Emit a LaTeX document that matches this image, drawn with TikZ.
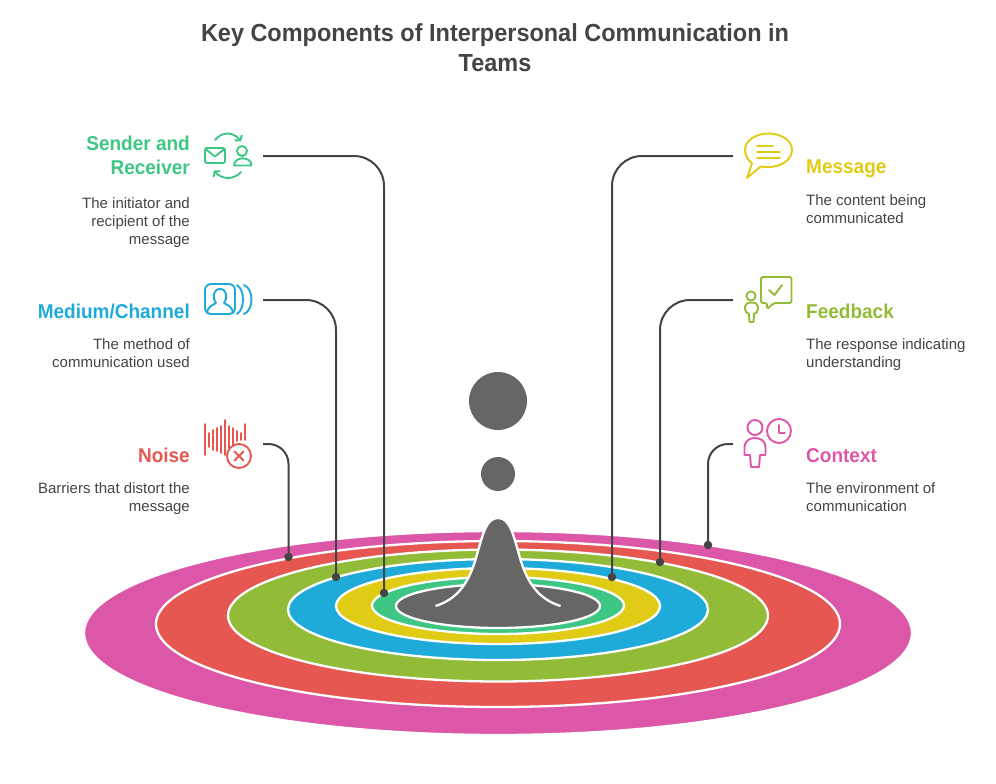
\documentclass[tikz,border=0pt]{standalone}
\usepackage{fontspec}
\setmainfont{Liberation Sans}
\newfontfamily\headfont[FakeStretch=0.95]{Liberation Sans}
\usetikzlibrary{arrows.meta}
\definecolor{contextpink}{HTML}{DD57A9}
\definecolor{noisered}{HTML}{E55750}
\definecolor{feedbackolive}{HTML}{92BC37}
\definecolor{mediumblue}{HTML}{1EABDA}
\definecolor{messageyellow}{HTML}{E0CB15}
\definecolor{sendergreen}{HTML}{3EC784}
\definecolor{coregray}{HTML}{666666}
\definecolor{leadergray}{HTML}{444444}
\tikzset{
  ring/.style={draw=white,line width=2.3pt},
  leader/.style={draw=leadergray,line width=2pt},
  dot/.style={circle,fill=leadergray,inner sep=0pt,minimum size=8.5pt},
  titletext/.style={font=\fontsize{24.7}{30}\selectfont\headfont\bfseries,text=leadergray,align=center,inner sep=0pt},
  headleft/.style={font=\fontsize{20}{24}\selectfont\headfont\bfseries,align=right,anchor=north east,inner sep=0pt},
  headright/.style={font=\fontsize{20}{24}\selectfont\headfont\bfseries,align=left,anchor=north west,inner sep=0pt},
  bodyleft/.style={font=\fontsize{15}{18}\selectfont,text=leadergray,align=right,anchor=north east,inner sep=0pt},
  bodyright/.style={font=\fontsize{15}{18}\selectfont,text=leadergray,align=left,anchor=north west,inner sep=0pt},
  icon/.style={line width=1.9pt,line join=round,line cap=round}
}
\begin{document}
\begin{tikzpicture}[x=1pt,y=-1pt]
  \useasboundingbox (0,0) rectangle (996,784);
  \node[titletext] (title) at (495,48) {Key Components of Interpersonal Communication in\\Teams};

  \filldraw[ring,fill=contextpink] (498,633) ellipse (414 and 102);
  \filldraw[ring,fill=noisered] (498,624) ellipse (342 and 83);
  \filldraw[ring,fill=feedbackolive] (498,615.5) ellipse (270 and 66);
  \filldraw[ring,fill=mediumblue] (498,609.5) ellipse (210 and 50.5);
  \filldraw[ring,fill=messageyellow] (498,606) ellipse (162 and 38);
  \filldraw[ring,fill=sendergreen] (498,605.5) ellipse (126 and 28.5);
  \filldraw[ring,fill=coregray] (498,606) ellipse (102 and 22);
  \filldraw[ring,fill=coregray] (435.5,606) .. controls (458,599) and (469,582) .. (476,558) .. controls (483,534) and (486,518) .. (498,518) .. controls (510,518) and (513,534) .. (520,558) .. controls (527,582) and (538,599) .. (560.5,606);
  \fill[coregray] (498,401) circle (29);
  \fill[coregray] (498,474) circle (17);

  \node[dot] (senderdot) at (384,593) {};
  \node[dot] (mediumdot) at (336,577) {};
  \node[dot] (noisedot) at (288.5,557) {};
  \node[dot] (messagedot) at (612,577) {};
  \node[dot] (feedbackdot) at (660,562) {};
  \node[dot] (contextdot) at (708,545) {};
  \coordinate (senderstart) at (263,156);
  \coordinate (mediumstart) at (263,300);
  \coordinate (noisestart) at (263,444);
  \coordinate (messagestart) at (733,156);
  \coordinate (feedbackstart) at (733,300);
  \coordinate (contextstart) at (733,444);
  \draw[leader,rounded corners=30pt] (senderstart) -| (senderdot.center);
  \draw[leader,rounded corners=30pt] (mediumstart) -| (mediumdot.center);
  \draw[leader,rounded corners=20pt] (noisestart) -| (noisedot.center);
  \draw[leader,rounded corners=30pt] (messagestart) -| (messagedot.center);
  \draw[leader,rounded corners=30pt] (feedbackstart) -| (feedbackdot.center);
  \draw[leader,rounded corners=20pt] (contextstart) -| (contextdot.center);

  \node[headleft,text=sendergreen] (senderhead) at (190,136) {Sender and\\Receiver};
  \node[bodyleft] (senderbody) at (190,197) {The initiator and\\recipient of the\\message};
  \node[headleft,text=mediumblue] (mediumhead) at (190,304) {Medium/Channel};
  \node[bodyleft] (mediumbody) at (190,338.5) {The method of\\communication used};
  \node[headleft,text=noisered] (noisehead) at (190,448) {Noise};
  \node[bodyleft] (noisebody) at (190,482.5) {Barriers that distort the\\message};
  \node[headright,text=messageyellow] (messagehead) at (806,160) {Message};
  \node[bodyright] (messagebody) at (806,194.5) {The content being\\communicated};
  \node[headright,text=feedbackolive] (feedbackhead) at (806,304) {Feedback};
  \node[bodyright] (feedbackbody) at (806,338.5) {The response indicating\\understanding};
  \node[headright,text=contextpink] (contexthead) at (806,448) {Context};
  \node[bodyright] (contextbody) at (806,482.5) {The environment of\\communication};

  \begin{scope}[icon,draw=sendergreen]
    \draw[rounded corners=2pt] (205,148) rectangle (225,163);
    \draw (205.5,149) -- (215,156.5) -- (224.5,149);
    \draw (242,151) circle (5);
    \draw (234,165.5) .. controls (234,156) and (251.5,156) .. (251.5,165.5) -- cycle;
    \draw[-{Straight Barb[length=3.5pt,width=9pt]}] (215,140) .. controls (222,131) and (234,132) .. (241,141.5);
    \draw[-{Straight Barb[length=3.5pt,width=9pt]}] (241,172) .. controls (234,180) and (222,180) .. (214,170.5);
  \end{scope}
  \begin{scope}[icon,draw=mediumblue]
    \draw[rounded corners=6pt] (205,284) rectangle (235,314);
    \draw (207,313) .. controls (208,306) and (213,305) .. (216,303) .. controls (212,298) and (213,289) .. (220,289) .. controls (227,289) and (228,298) .. (224,303) .. controls (227,305) and (232,306) .. (233,313);
    \draw (237,285) .. controls (245,290) and (245,309) .. (237,314);
    \draw (244,285) .. controls (254,289) and (254,310) .. (244,314);
  \end{scope}
  \begin{scope}[icon,draw=noisered]
    \draw (205,424) -- (205,455);
    \draw (209,433) -- (209,447);
    \draw (213,430) -- (213,450);
    \draw (217,428) -- (217,451);
    \draw (221,426) -- (221,453);
    \draw (225,420) -- (225,455);
    \draw (229,426) -- (229,448);
    \draw (233,428) -- (233,445);
    \draw (237,431) -- (237,441);
    \draw (241,433) -- (241,440);
    \draw (245,424) -- (245,440);
    \draw[fill=white] (239,456) circle (12);
    \draw (234.5,451.5) -- (243.5,460.5);
    \draw (243.5,451.5) -- (234.5,460.5);
  \end{scope}
  \begin{scope}[icon,draw=messageyellow]
    \draw (752,163.5) .. controls (748,160) and (745,155.5) .. (745,150) .. controls (745,141) and (755,133.5) .. (768.5,133.5) .. controls (782,133.5) and (792,141) .. (792,150) .. controls (792,159) and (782,167) .. (768.5,167) .. controls (765,167) and (763,167) .. (760.5,166.5) -- (747,178) -- cycle;
    \draw (757,146) -- (773,146);
    \draw (757,152) -- (780,152);
    \draw (757,158) -- (780,158);
  \end{scope}
  \begin{scope}[icon,draw=feedbackolive]
    \draw[rounded corners=1.5pt] (761,277) -- (791.5,277) -- (791.5,303) -- (774,303) -- (767,309) -- (767,303) -- (761,303) -- cycle;
    \draw (769,290) -- (774.5,295) -- (782,285);
    \draw (751,296) circle (4.6);
    \draw (749.5,322) -- (749,314) .. controls (747,313) and (745,312) .. (745,309) -- (745,306.5) .. controls (745,304) and (748,302.5) .. (751.5,302.5) .. controls (755,302.5) and (758,304) .. (758,306.5) -- (758,309) .. controls (758,312) and (756,313) .. (754,314) -- (753.5,322) -- cycle;
  \end{scope}
  \begin{scope}[icon,draw=contextpink]
    \draw (755,427.5) circle (7.5);
    \draw (751,467) -- (750,455) -- (744.5,455) -- (744.5,447) .. controls (744.5,435) and (765.5,435) .. (765.5,447) -- (765.5,455) -- (760,455) -- (759,467) -- cycle;
    \draw (779,431) circle (12);
    \draw (779,425) -- (779,433) -- (785,433);
  \end{scope}
\end{tikzpicture}
\end{document}
